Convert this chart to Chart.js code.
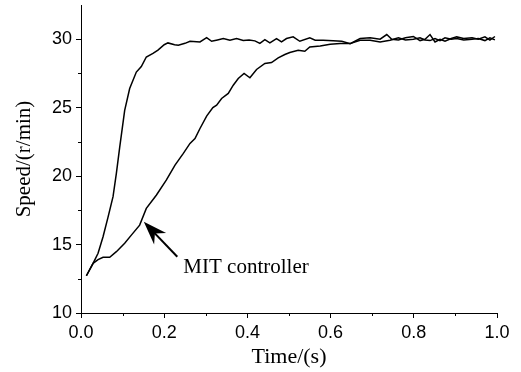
<!DOCTYPE html>
<html>
<head>
<meta charset="utf-8">
<script src="https://cdn.jsdelivr.net/npm/chart.js@4.4.1/dist/chart.umd.min.js"></script>
<style>
  body { margin: 0; background: #fff; }
  #wrap { width: 521px; height: 372px; }
</style>
</head>
<body>
<div id="wrap"><canvas id="speedChart" width="521" height="372"></canvas></div>
<script>
// fast response curve (upper)
const fastTime = [0.013, 0.029, 0.041, 0.053, 0.065, 0.077, 0.085, 0.093, 0.105, 0.117, 0.133, 0.145, 0.157, 0.173, 0.185, 0.2, 0.209, 0.225, 0.234, 0.25, 0.262, 0.286, 0.302, 0.314, 0.328, 0.342, 0.358, 0.374, 0.39, 0.404, 0.418, 0.43, 0.442, 0.454, 0.47, 0.482, 0.494, 0.51, 0.526, 0.55, 0.563, 0.582, 0.606, 0.627, 0.647, 0.671, 0.695, 0.719, 0.735, 0.747, 0.763, 0.78, 0.799, 0.815, 0.827, 0.839, 0.851, 0.863, 0.875, 0.89, 0.903, 0.92, 0.94, 0.955, 0.971, 0.983, 0.995];
const fastSpeed = [12.72, 13.63, 14.36, 15.57, 17.0, 18.5, 20.2, 22.1, 24.8, 26.4, 27.6, 28.0, 28.7, 28.96, 29.2, 29.6, 29.73, 29.6, 29.56, 29.7, 29.85, 29.8, 30.12, 29.85, 29.95, 30.05, 29.93, 30.05, 29.9, 29.95, 29.88, 29.7, 29.97, 29.73, 30.05, 29.8, 30.05, 30.17, 29.85, 30.1, 29.93, 29.93, 29.88, 29.85, 29.68, 30.05, 30.1, 30.0, 30.34, 30.0, 29.95, 30.1, 30.2, 29.9, 30.0, 30.34, 29.8, 30.0, 29.85, 30.05, 30.17, 30.05, 30.1, 30.0, 30.17, 29.93, 30.2];

// MIT controller curve (lower)
const mitTime = [0.013, 0.029, 0.041, 0.053, 0.069, 0.085, 0.105, 0.121, 0.141, 0.157, 0.181, 0.205, 0.226, 0.246, 0.262, 0.274, 0.286, 0.302, 0.317, 0.326, 0.338, 0.354, 0.366, 0.378, 0.392, 0.406, 0.422, 0.442, 0.458, 0.474, 0.49, 0.502, 0.522, 0.538, 0.55, 0.575, 0.599, 0.623, 0.647, 0.671, 0.695, 0.719, 0.743, 0.763, 0.78, 0.799, 0.815, 0.827, 0.839, 0.851, 0.863, 0.875, 0.89, 0.903, 0.92, 0.94, 0.955, 0.971, 0.983, 0.995];
const mitSpeed = [12.72, 13.63, 13.9, 14.07, 14.07, 14.48, 15.09, 15.69, 16.42, 17.64, 18.6, 19.7, 20.8, 21.66, 22.39, 22.75, 23.48, 24.38, 25.0, 25.18, 25.67, 26.04, 26.64, 27.13, 27.5, 27.18, 27.79, 28.23, 28.3, 28.64, 28.88, 29.03, 29.2, 29.12, 29.44, 29.5, 29.63, 29.68, 29.68, 29.93, 29.93, 29.8, 29.93, 30.1, 29.95, 30.0, 30.1, 29.95, 29.9, 30.05, 29.9, 30.1, 30.0, 30.05, 29.95, 30.0, 30.05, 29.9, 30.1, 29.95];

const xTicks = [0, 0.2, 0.4, 0.6, 0.8, 1.0];
const xMinorTicks = [0.1, 0.3, 0.5, 0.7, 0.9];
const yTicks = [10, 15, 20, 25, 30];
const yMinorTicks = [12.5, 17.5, 22.5, 27.5];

const labelText = 'MIT controller';
const arrowTip = { x: 0.151, y: 16.66 };
const arrowTail = { x: 0.2315, y: 14.11 };
const labelPos = { x: 0.246, y: 12.9 };

function toPoints(ts, vs) {
    let pts = [];
    for (let i = 0; i < ts.length; i++) pts.push({ x: ts[i], y: vs[i] });
    return pts;
}

const serif = '"Liberation Serif", "Times New Roman", serif';
const sans = '"Liberation Sans", Arial, sans-serif';

// minor ticks + arrow annotation
const extrasPlugin = {
    id: 'extras',
    afterDraw(chart) {
        const ctx = chart.ctx;
        const xs = chart.scales.x, ys = chart.scales.y;
        ctx.save();
        ctx.strokeStyle = '#000';
        ctx.lineWidth = 1;
        ctx.beginPath();
        xMinorTicks.forEach(function (v) {
            const px = Math.round(xs.getPixelForValue(v)) + 0.5;
            ctx.moveTo(px, ys.bottom);
            ctx.lineTo(px, ys.bottom + 3);
        });
        yMinorTicks.forEach(function (v) {
            const py = Math.round(ys.getPixelForValue(v)) + 0.5;
            ctx.moveTo(xs.left - 3, py);
            ctx.lineTo(xs.left, py);
        });
        ctx.stroke();

        // arrow
        const tx = xs.getPixelForValue(arrowTip.x), ty = ys.getPixelForValue(arrowTip.y);
        const ex = xs.getPixelForValue(arrowTail.x), ey = ys.getPixelForValue(arrowTail.y);
        const ang = Math.atan2(ey - ty, ex - tx);
        ctx.lineWidth = 2;
        ctx.beginPath();
        ctx.moveTo(tx + Math.cos(ang) * 8, ty + Math.sin(ang) * 8);
        ctx.lineTo(ex, ey);
        ctx.stroke();
        const len = 25, spread = 0.34, notch = 16;
        ctx.fillStyle = '#000';
        ctx.beginPath();
        ctx.moveTo(tx, ty);
        ctx.lineTo(tx + Math.cos(ang - spread) * len, ty + Math.sin(ang - spread) * len);
        ctx.lineTo(tx + Math.cos(ang) * notch, ty + Math.sin(ang) * notch);
        ctx.lineTo(tx + Math.cos(ang + spread) * len, ty + Math.sin(ang + spread) * len);
        ctx.closePath();
        ctx.fill();

        ctx.font = '21px ' + serif;
        ctx.textAlign = 'left';
        ctx.textBaseline = 'alphabetic';
        ctx.fillText(labelText, xs.getPixelForValue(labelPos.x), ys.getPixelForValue(labelPos.y));
        ctx.restore();
    }
};

new Chart(document.getElementById('speedChart'), {
    type: 'line',
    data: {
        datasets: [{
            label: 'fast',
            data: toPoints(fastTime, fastSpeed),
            borderColor: '#000',
            borderWidth: 1.5,
            pointRadius: 0,
            tension: 0
        }, {
            label: 'MIT controller',
            data: toPoints(mitTime, mitSpeed),
            borderColor: '#000',
            borderWidth: 1.5,
            pointRadius: 0,
            tension: 0
        }]
    },
    options: {
        responsive: false,
        animation: false,
        layout: { padding: { left: 0, right: 24, top: 5, bottom: 0 } },
        plugins: { legend: { display: false }, tooltip: { enabled: false } },
        scales: {
            x: {
                type: 'linear',
                min: 0,
                max: 1.0,
                afterBuildTicks: function (s) { s.ticks = xTicks.map(v => ({ value: v })); },
                afterFit: function (s) { s.height = 59; s.paddingLeft = 0; s.paddingRight = 0; },
                grid: { drawOnChartArea: false, drawTicks: true, tickLength: 5, tickColor: '#000' },
                border: { display: true, color: '#000', width: 1 },
                ticks: {
                    color: '#000',
                    padding: 4,
                    maxRotation: 0,
                    autoSkip: false,
                    font: { family: sans, size: 18 },
                    callback: function (v) { return Number(v).toFixed(1); }
                },
                title: {
                    display: true,
                    text: 'Time/(s)',
                    color: '#000',
                    font: { family: serif, size: 22 },
                    padding: { top: 0, bottom: 2 }
                }
            },
            y: {
                type: 'linear',
                min: 10,
                max: 32.5,
                afterBuildTicks: function (s) { s.ticks = yTicks.map(v => ({ value: v })); },
                afterFit: function (s) { s.width = 81; s.paddingTop = 0; s.paddingBottom = 0; },
                grid: { drawOnChartArea: false, drawTicks: true, tickLength: 5, tickColor: '#000' },
                border: { display: true, color: '#000', width: 1 },
                ticks: {
                    color: '#000',
                    padding: 4,
                    autoSkip: false,
                    font: { family: sans, size: 18 }
                },
                title: {
                    display: true,
                    text: 'Speed/(r/min)',
                    color: '#000',
                    font: { family: serif, size: 21 },
                    padding: { top: 12, bottom: 0 }
                }
            }
        }
    },
    plugins: [extrasPlugin]
});
</script>
</body>
</html>
